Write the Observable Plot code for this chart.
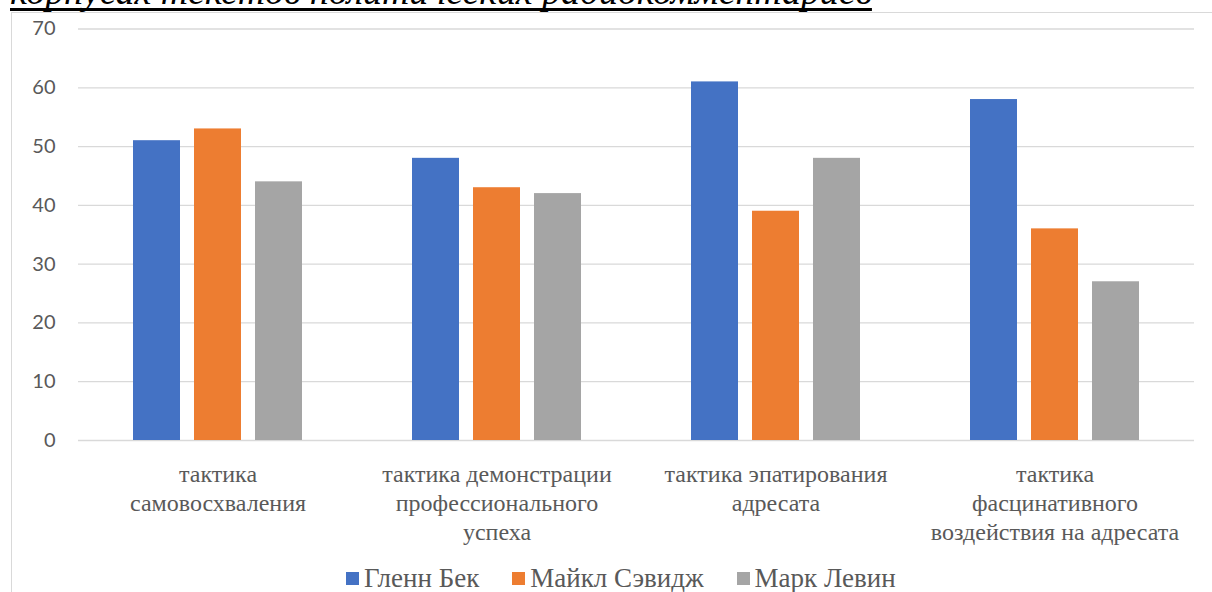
<!DOCTYPE html>
<html>
<head>
<meta charset="utf-8">
<script src="https://cdn.jsdelivr.net/npm/d3@7"></script>
<script src="https://cdn.jsdelivr.net/npm/@observablehq/plot@0.6"></script>
<style>
  body { margin: 0; background: #fff; }
  #wrap { position: relative; width: 1212px; height: 592px; overflow: hidden; background: #fff; }
  #frame { position: absolute; left: 11px; top: 12px; width: 1400px; height: 800px; border: 1px solid #d9d9d9; box-sizing: border-box; }
  #title { position: absolute; left: 0; top: 0; overflow: visible; }
  #chart { position: absolute; left: 0; top: 0; }
  #legend { position: absolute; left: 346px; top: 563px; display: flex; align-items: center;
            font-family: "Liberation Serif", "DejaVu Serif", serif; font-size: 27px; color: #595959; white-space: nowrap; }
  .item { display: flex; align-items: center; margin-right: 33px; }
  .sw { width: 13px; height: 13px; margin-right: 5px; }
</style>
</head>
<body>
<div id="wrap">
  <div id="frame"></div>
  <svg id="title" width="1212" height="14"></svg>
  <div id="chart"></div>
  <div id="legend"></div>
</div>
<script>
// Tactics (categories) and their multi-line axis labels
const categories = [
  "тактика самовосхваления",
  "тактика демонстрации профессионального успеха",
  "тактика эпатирования адресата",
  "тактика фасцинативного воздействия на адресата"
];
const categoryLabels = [
  "тактика\nсамовосхваления",
  "тактика демонстрации\nпрофессионального\nуспеха",
  "тактика эпатирования\nадресата",
  "тактика\nфасцинативного\nвоздействия на адресата"
];

// Commentators (series) and their counts per tactic
const series = ["Гленн Бек", "Майкл Сэвидж", "Марк Левин"];
const glennBeck = [51, 48, 61, 58];
const michaelSavage = [53, 43, 39, 36];
const markLevin = [44, 42, 48, 27];
const seriesValues = [glennBeck, michaelSavage, markLevin];
const seriesColors = ["#4472c4", "#ed7d31", "#a5a5a5"];

const yTicks = [0, 10, 20, 30, 40, 50, 60, 70];
const titleText = "корпусах текстов политических радиокомментариев";

const serifFamily = "'Liberation Serif', 'DejaVu Serif', serif";

const rows = categories.flatMap((c, i) =>
  series.map((s, j) => ({ category: c, series: s, value: seriesValues[j][i] }))
);
const labelOf = new Map(categories.map((c, i) => [c, categoryLabels[i]]));

const chart = Plot.plot({
  width: 1212,
  height: 592,
  marginLeft: 78,
  marginRight: 18,
  marginTop: 28.5,
  marginBottom: 152,
  style: { color: "#595959", background: "transparent", overflow: "visible" },
  fx: { domain: categories, padding: 0, label: null },
  x: { domain: series, paddingInner: 0.2258, paddingOuter: 0.863, axis: null },
  y: { domain: [0, 70], label: null },
  color: { domain: series, range: seriesColors },
  marks: [
    Plot.gridY(yTicks, { stroke: "#d9d9d9", strokeOpacity: 1, strokeWidth: 1.3 }),
    Plot.barY(rows, { fx: "category", x: "series", y: "value", fill: "series" }),
    Plot.axisY(yTicks, {
      tickSize: 0, tickPadding: 23, fontSize: 20,
      fontFamily: "Lato, 'Open Sans', sans-serif", label: null
    }),
    Plot.axisFx({
      anchor: "bottom", tickSize: 0, tickPadding: 21, fontSize: 24, lineHeight: 1.21,
      fontFamily: serifFamily,
      tickFormat: (d) => labelOf.get(d), label: null
    })
  ]
});
document.getElementById("chart").appendChild(chart);

// Heading line above the chart frame (only its lower part fits on the page)
const title = d3.select("#title");
const titleNode = title.append("text")
  .attr("x", 10).attr("y", 4)
  .attr("font-family", serifFamily)
  .attr("font-style", "italic")
  .attr("font-size", 37.8)
  .attr("fill", "#000")
  .text(titleText)
  .node();
title.append("rect")
  .attr("x", 10).attr("y", 8)
  .attr("width", titleNode.getComputedTextLength())
  .attr("height", 3)
  .attr("fill", "#000");

// Legend: swatch + commentator name
const legend = d3.select("#legend");
series.forEach((s, i) => {
  const item = legend.append("div").attr("class", "item");
  item.append("div").attr("class", "sw").style("background", seriesColors[i]);
  item.append("span").text(s);
});
</script>
</body>
</html>
